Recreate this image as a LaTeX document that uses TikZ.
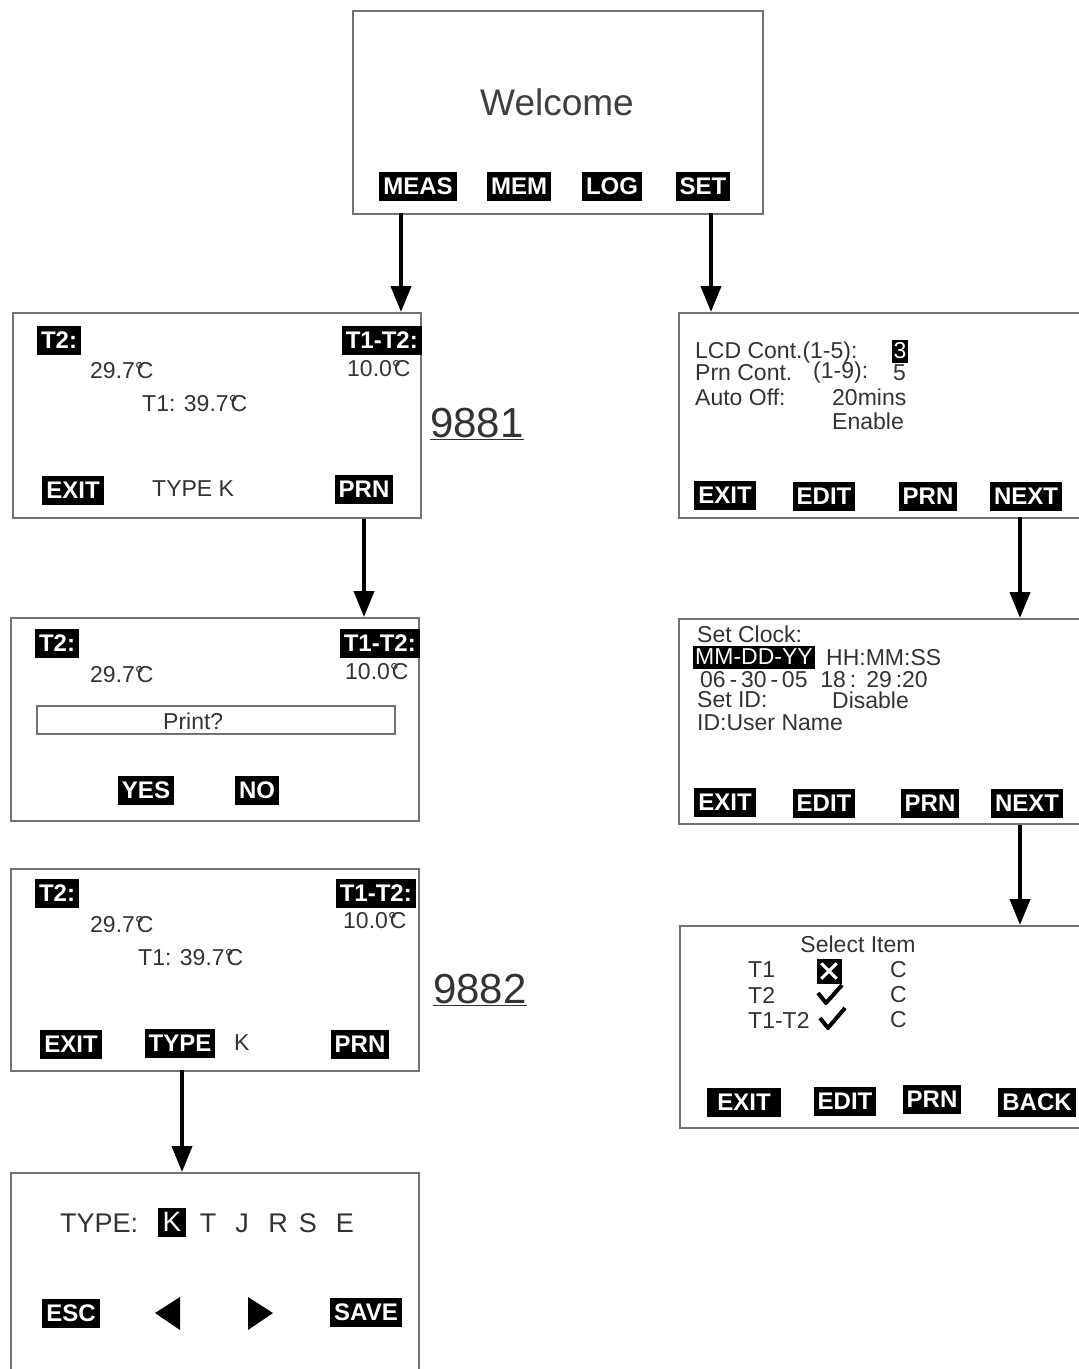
\documentclass[tikz,border=0pt]{standalone}
\usepackage{fontspec}
\setmainfont{Liberation Sans}
\usetikzlibrary{positioning,arrows.meta}

\newcommand\lcdfont{\fontsize{23}{25}\selectfont}
\newcommand\keyfont{\fontsize{24}{26}\selectfont\bfseries}
\newcommand\dC{°\kern-0.32em C}

\tikzset{
  screen/.style={draw=black!55, line width=2pt, inner sep=0pt, anchor=north west},
  softkey/.style={fill=black, text=white, font=\keyfont, inner xsep=4pt, inner ysep=0pt, minimum height=29pt},
  tinykey/.style={fill=black, text=white, font=\lcdfont, inner xsep=2pt, inner ysep=0pt, minimum height=23pt},
  lcd/.style={text=black!80, font=\lcdfont, inner sep=0pt, anchor=west},
  flow/.style={-{Triangle[width=20pt,length=26pt]}, line width=4pt},
  model/.style={font=\fontsize{42}{44}\selectfont, text=black!80, inner sep=0pt}
}

\begin{document}
\begin{tikzpicture}[x=1pt,y=-1pt]
  \useasboundingbox (0,0) rectangle (1079,1369);

  % welcome screen
  \node[screen, minimum width=410pt, minimum height=203pt] (welcome) at (352,10) {};
  \node[font=\fontsize{37}{40}\selectfont, text=black!75] (hello) at (557,102) {Welcome};
  \node[softkey] (meas) at (418,186) {MEAS};
  \node[softkey] (mem) at (519,186) {MEM};
  \node[softkey] (log) at (612,186) {LOG};
  \node[softkey] (set) at (703,186) {SET};

  % measure screen, 9881
  \node[screen, minimum width=408pt, minimum height=205pt] (meas1) at (12,312) {};
  \node[softkey] (m1t2) at (59,340) {T2:};
  \node[softkey, anchor=east] (m1diff) at (422,340) {T1-T2:};
  \node[lcd] (m1v2) at (90,371) {29.7\dC};
  \node[lcd] (m1vd) at (347,369) {10.0\dC};
  \node[lcd] (m1v1) at (142,404) {T1: 39.7\dC};
  \node[softkey] (m1exit) at (73,490) {EXIT};
  \node[lcd] (m1type) at (152,489) {TYPE K};
  \node[softkey] (m1prn) at (364,489) {PRN};
  \node[model] (n9881) at (477,424) {\underline{9881}};

  % print question
  \node[screen, minimum width=408pt, minimum height=203pt] (print) at (10,617) {};
  \node[softkey] (p2t2) at (57,643) {T2:};
  \node[softkey, anchor=east] (p2diff) at (420,643) {T1-T2:};
  \node[lcd] (p2v2) at (90,675) {29.7\dC};
  \node[lcd] (p2vd) at (345,672) {10.0\dC};
  \node[draw=black!55, line width=1.6pt, minimum width=358pt, minimum height=28pt] (ask) at (216,720) {};
  \node[lcd] (asktxt) at (163,721) {Print?};
  \node[softkey] (yes) at (146,790) {YES};
  \node[softkey] (no) at (257,790) {NO};

  % measure screen, 9882
  \node[screen, minimum width=408pt, minimum height=202pt] (meas2) at (10,868) {};
  \node[softkey] (m2t2) at (57,893) {T2:};
  \node[softkey, anchor=east] (m2diff) at (416,893) {T1-T2:};
  \node[lcd] (m2v2) at (90,925) {29.7\dC};
  \node[lcd] (m2vd) at (343,921) {10.0\dC};
  \node[lcd] (m2v1) at (138,958) {T1: 39.7\dC};
  \node[softkey] (m2exit) at (71,1044) {EXIT};
  \node[softkey] (m2type) at (180,1043) {TYPE};
  \node[lcd] (m2k) at (234,1043) {K};
  \node[softkey] (m2prn) at (360,1044) {PRN};
  \node[model] (n9882) at (480,990) {\underline{9882}};

  % thermocouple type
  \node[screen, minimum width=408pt, minimum height=230pt] (types) at (10,1172) {};
  \node[lcd, font=\fontsize{27}{29}\selectfont] (typelbl) at (60,1223) {TYPE:};
  \node[softkey, font=\fontsize{28}{30}\selectfont, minimum height=29pt, inner xsep=5pt] (tk) at (172,1222) {K};
  \foreach \t/\xx in {T/208,J/242,R/278,S/308,E/345}
    \node[lcd, anchor=center, font=\fontsize{27}{29}\selectfont] (t\t) at (\xx,1223) {\t};
  \node[softkey] (esc) at (71,1313) {ESC};
  \fill (155,1313) -- (180,1297) -- (180,1330) -- cycle;
  \fill (273,1313) -- (248,1297) -- (248,1330) -- cycle;
  \node[softkey] (save) at (366,1312) {SAVE};

  % setup screen
  \node[screen, minimum width=430pt, minimum height=205pt] (setup) at (678,312) {};
  \node[lcd] (lcdc) at (695,353) {LCD Cont.(1-5):};
  \node[tinykey] (lcdv) at (900,351) {3};
  \node[lcd] (prnc) at (695,373) {Prn Cont.};
  \node[lcd] (prnr) at (813,373) {(1-9):};
  \node[lcd] (prnv) at (893,373) {5};
  \node[lcd] (autoc) at (695,397) {Auto Off:};
  \node[lcd] (autov) at (832,397) {20mins};
  \node[lcd] (autoe) at (832,421) {Enable};
  \node[softkey] (r1exit) at (725,495) {EXIT};
  \node[softkey] (r1edit) at (824,496) {EDIT};
  \node[softkey] (r1prn) at (928,496) {PRN};
  \node[softkey] (r1next) at (1026,496) {NEXT};

  % clock screen
  \node[screen, minimum width=430pt, minimum height=205pt] (clock) at (678,618) {};
  \node[lcd] (clk) at (697,634) {Set Clock:};
  \node[tinykey, anchor=west] (datefmt) at (693,657) {MM-DD-YY};
  \node[lcd] (timefmt) at (826,658) {HH:MM:SS};
  \node[lcd] (stamp) at (700,680) {06\,-\,30\,-\,05\ \ 18\,:\ \,29\,:20};
  \node[lcd] (sid) at (697,700) {Set ID:};
  \node[lcd] (sidv) at (832,700) {Disable};
  \node[lcd] (uid) at (697,723) {ID:User Name};
  \node[softkey] (r2exit) at (725,802) {EXIT};
  \node[softkey] (r2edit) at (824,803) {EDIT};
  \node[softkey] (r2prn) at (930,803) {PRN};
  \node[softkey] (r2next) at (1027,803) {NEXT};

  % select item screen
  \node[screen, minimum width=430pt, minimum height=202pt] (items) at (679,925) {};
  \node[lcd, anchor=center] (sel) at (858,944) {Select Item};
  \node[lcd] (i1) at (748,970) {T1};
  \node[lcd] (i2) at (748,995) {T2};
  \node[lcd] (i3) at (748,1020) {T1-T2};
  \node[fill=black, minimum size=25pt, inner sep=0pt] (xbox) at (829,971) {};
  \draw[white, line width=3pt] ([shift={(5,5)}]xbox.north west) -- ([shift={(-5,-5)}]xbox.south east);
  \draw[white, line width=3pt] ([shift={(-5,5)}]xbox.north east) -- ([shift={(5,-5)}]xbox.south west);
  \draw[line width=4pt, line join=round] (818,993) -- (826,1003) -- (842,985);
  \draw[line width=4pt, line join=round] (820,1018) -- (828,1028) -- (845,1008);
  \foreach \yy in {970,995,1020}
    \node[lcd] at (890,\yy) {C};
  \node[softkey, minimum width=74pt] (r3exit) at (744,1102) {EXIT};
  \node[softkey] (r3edit) at (845,1101) {EDIT};
  \node[softkey] (r3prn) at (932,1099) {PRN};
  \node[softkey] (r3back) at (1037,1102) {BACK};

  % arrows
  \coordinate (measout) at (401,213);
  \coordinate (setout) at (711,213);
  \coordinate (nextout) at (1020,517);
  \draw[flow] (measout) -- (measout |- meas1.north);
  \draw[flow] (setout) -- (setout |- setup.north);
  \draw[flow] (m1prn |- meas1.south) -- (m1prn |- print.north);
  \draw[flow] (nextout) -- (nextout |- clock.north);
  \draw[flow] (nextout |- clock.south) -- (nextout |- items.north);
  \draw[flow] (182,1070) -- (182,1172);
\end{tikzpicture}
\end{document}
